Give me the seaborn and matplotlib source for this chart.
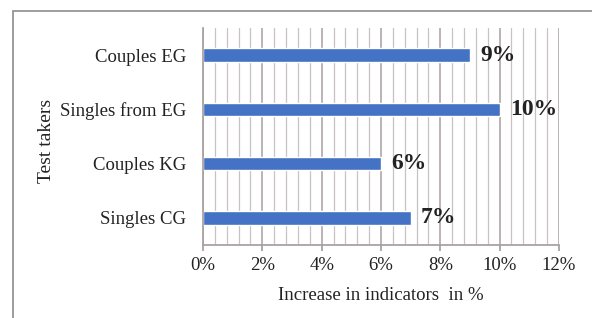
import matplotlib
matplotlib.use("Agg")
import matplotlib.pyplot as plt
import matplotlib.patches as mpatches
from matplotlib.ticker import MultipleLocator, PercentFormatter
import seaborn as sns
import pandas as pd

# data
groups = ["Couples EG", "Singles from EG", "Couples KG", "Singles CG"]
increase = [9, 10, 6, 7]
labels = ["9%", "10%", "6%", "7%"]

sns.set_theme(style="white")
plt.rcParams["font.family"] = ["Liberation Serif", "DejaVu Serif"]

df = pd.DataFrame({"group": groups, "increase": increase})

fig = plt.figure(figsize=(5.92, 3.18), dpi=100)
ax = fig.add_axes([0.343, 0.2296, 0.601, 0.682])

# outer frame (runs off the right and bottom edges as in the reference)
fig.patches.append(mpatches.Rectangle((13 / 592, -0.1), 1.2, 1 - 11 / 318 + 0.1,
                                      transform=fig.transFigure, fill=False,
                                      edgecolor="#8c8c8c", linewidth=1.2))

sns.barplot(data=df, x="increase", y="group", order=groups, color="#4472C4",
            width=0.25, saturation=1, ax=ax)

ax.set_xlim(0, 12)
ax.set_ylim(3.5, -0.5)
ax.xaxis.set_major_locator(MultipleLocator(2))
ax.xaxis.set_minor_locator(MultipleLocator(0.4))
ax.xaxis.set_major_formatter(PercentFormatter(decimals=0))
ax.set_axisbelow(True)
ax.grid(axis="x", which="minor", color="#c8c2c2", linewidth=0.9)
ax.grid(axis="x", which="major", color="#a89f9f", linewidth=1.1)
ax.grid(axis="y", visible=False)

for s in ["top", "right", "bottom", "left"]:
    ax.spines[s].set_visible(False)
ax.spines["left"].set_visible(True)
ax.spines["left"].set_color("#a89f9f")
ax.spines["bottom"].set_visible(True)
ax.spines["bottom"].set_color("#a89f9f")

ax.tick_params(axis="x", which="major", bottom=True, length=4, color="#a89f9f",
               labelsize=13.5, pad=5, labelcolor="#222222")
ax.tick_params(axis="x", which="minor", bottom=False)
ax.tick_params(axis="y", left=False, labelsize=13.5, pad=6, labelcolor="#222222")

for i, (v, t) in enumerate(zip(increase, labels)):
    ax.text(v + 0.35, i, t, va="center", ha="left", fontsize=17,
            fontweight="bold", color="#222222")

ax.set_xlabel("Increase in indicators  in %", fontsize=13.5, color="#222222", labelpad=9)
ax.set_ylabel("Test takers", fontsize=14, color="#222222")
ax.yaxis.set_label_coords(-0.416, 0.48)

fig.savefig("out.png", dpi=100, facecolor="white")
